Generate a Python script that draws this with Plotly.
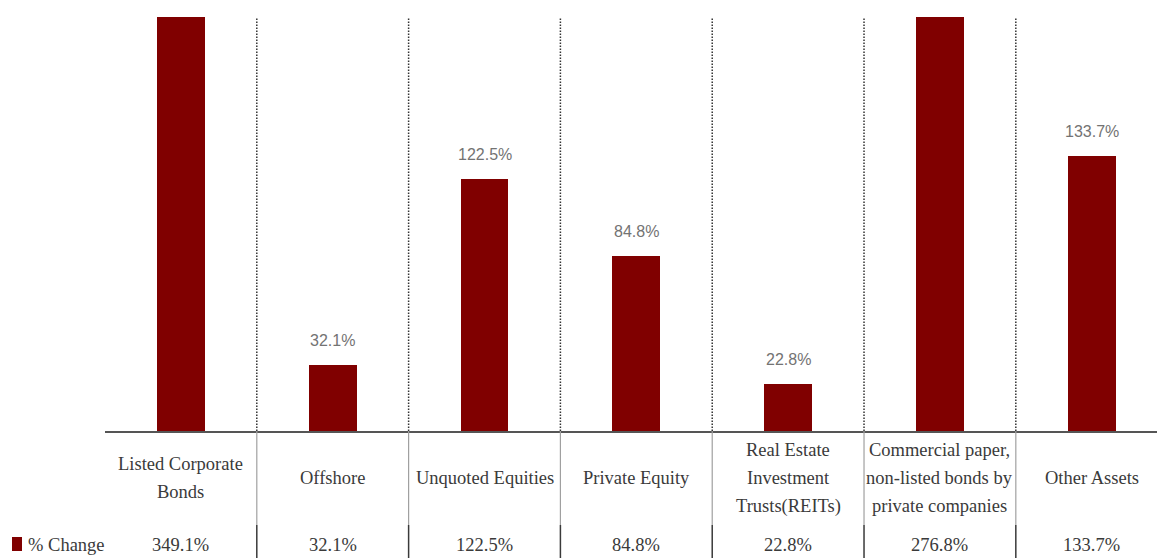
import plotly.graph_objects as go

# Asset classes and their percentage change
categories = [
    "Listed Corporate<br>Bonds",
    "Offshore",
    "Unquoted Equities",
    "Private Equity",
    "Real Estate<br>Investment<br>Trusts(REITs)",
    "Commercial paper,<br>non-listed bonds by<br>private companies",
    "Other Assets",
]
pct_change = [349.1, 32.1, 122.5, 84.8, 22.8, 276.8, 133.7]
series_name = "% Change"

Y_MAX = 201
X_MAX = 6.43          # the last column runs past the right edge
BAR_COLOR = "#800000"
SERIF = "Liberation Serif, Times New Roman, serif"
SANS = "Liberation Sans, Arial, sans-serif"
TABLE_TEXT = "#3a3a3a"
TABLE_SIZE = 18.5

W, H = 1157, 558
M_L, M_R, M_T, M_B = 105, 0, 17, 127
plot_h = H - M_T - M_B
LINE_STEP = 28.5      # row spacing of wrapped category names, px


def py(px):
    """Pixel row in the page -> paper y coordinate."""
    return (H - M_B - px) / plot_h


def px_x(px):
    return (px - M_L) / (W - M_L - M_R)


x_idx = list(range(len(categories)))

fig = go.Figure()
fig.add_trace(go.Bar(
    x=x_idx,
    y=pct_change,
    width=0.316,
    marker=dict(color=BAR_COLOR, line=dict(width=0)),
    name=series_name,
    cliponaxis=True,
    hoverinfo="skip",
))

annotations = []
# value labels above bars that fit in the visible range
for i, v in enumerate(pct_change):
    if v < Y_MAX:
        annotations.append(dict(
            x=i, y=v, xref="x", yref="y",
            text=f"{v:.1f}%", showarrow=False,
            yanchor="bottom", yshift=14,
            font=dict(family=SANS, size=16, color="#737373"),
        ))

# data table: category names (one annotation per line) and values
for i, (cat, v) in enumerate(zip(categories, pct_change)):
    lines = cat.split("<br>")
    n = len(lines)
    for k, line in enumerate(lines):
        row_px = 478 + (k - (n - 1) / 2) * LINE_STEP
        annotations.append(dict(
            x=i, y=py(row_px), xref="x", yref="paper",
            text=line, showarrow=False, yanchor="middle",
            font=dict(family=SERIF, size=TABLE_SIZE, color=TABLE_TEXT),
        ))
    annotations.append(dict(
        x=i, y=py(545), xref="x", yref="paper",
        text=f"{v:.1f}%", showarrow=False, yanchor="middle",
        font=dict(family=SERIF, size=TABLE_SIZE, color=TABLE_TEXT),
    ))

annotations.append(dict(
    x=px_x(26), y=py(545), xref="paper", yref="paper",
    text=series_name, showarrow=False, xanchor="left", yanchor="middle",
    font=dict(family=SERIF, size=TABLE_SIZE, color=TABLE_TEXT),
))

shapes = []
for i in range(len(categories) - 1):
    xb = i + 0.5
    shapes.append(dict(
        type="line", xref="x", yref="paper", x0=xb, x1=xb, y0=0, y1=1,
        line=dict(color="#333333", width=1.5, dash="1.5px,1.5px"), layer="below",
    ))
    shapes.append(dict(
        type="line", xref="x", yref="paper", x0=xb, x1=xb, y0=0, y1=py(525),
        line=dict(color="#a0a0a0", width=1.2),
    ))
    shapes.append(dict(
        type="line", xref="x", yref="paper", x0=xb, x1=xb, y0=py(525), y1=py(H),
        line=dict(color="#3a3a3a", width=1.5),
    ))

# legend key
shapes.append(dict(
    type="rect", xref="paper", yref="paper",
    x0=px_x(12), x1=px_x(22), y0=py(551), y1=py(537),
    fillcolor=BAR_COLOR, line=dict(width=0),
))

fig.update_layout(
    width=W, height=H,
    margin=dict(l=M_L, r=M_R, t=M_T, b=M_B),
    paper_bgcolor="white", plot_bgcolor="white",
    showlegend=False,
    bargap=0,
    xaxis=dict(
        range=[-0.5, X_MAX],
        showticklabels=False, ticks="", showgrid=False, zeroline=False,
        showline=True, linecolor="#555555", linewidth=1.5,
        fixedrange=True,
    ),
    yaxis=dict(
        range=[0, Y_MAX], visible=False, showgrid=False, zeroline=False,
        fixedrange=True,
    ),
    annotations=annotations,
    shapes=shapes,
)

fig.write_html("out.html", config={"displayModeBar": False})
